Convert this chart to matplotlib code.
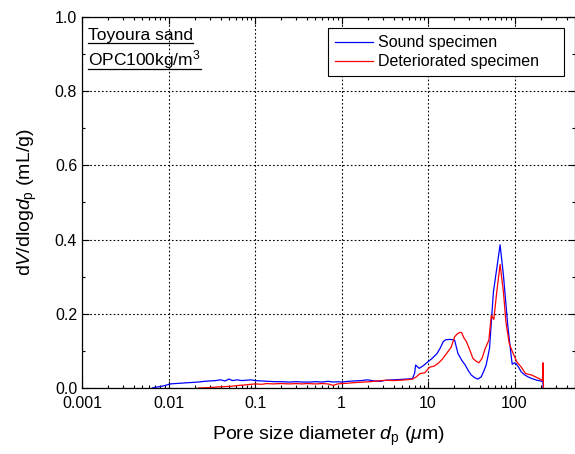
import matplotlib
matplotlib.use("Agg")
import matplotlib.pyplot as plt
from matplotlib.ticker import FixedLocator, MultipleLocator, LogLocator, NullFormatter, FuncFormatter
from matplotlib.lines import Line2D

plt.rcParams["font.family"] = ["Liberation Sans", "DejaVu Sans"]
plt.rcParams["mathtext.fontset"] = "custom"
plt.rcParams["mathtext.rm"] = "Liberation Sans"
plt.rcParams["mathtext.it"] = "Liberation Sans:italic"

# pore diameter (um) and dV/dlogdp (mL/g)
sound_d = [0.0065, 0.0075, 0.0085, 0.0095, 0.0105, 0.012, 0.014, 0.016, 0.019, 0.022,
           0.026, 0.030, 0.035, 0.040, 0.045, 0.050, 0.055, 0.062, 0.070, 0.080,
           0.090, 0.10, 0.12, 0.14, 0.17, 0.20, 0.25, 0.30, 0.36, 0.43,
           0.50, 0.60, 0.70, 0.80, 0.90, 1.0, 1.2, 1.4, 1.7, 2.0,
           2.4, 2.8, 3.3, 4.0, 4.75, 5.5, 6.6, 7.0, 7.2, 7.9,
           8.8, 10.0, 11.2, 12.7, 13.8, 15.0, 16.0, 17.8, 19.5, 20.3,
           21.0, 22.2, 24.5, 26.9, 29.0, 31.6, 34.5, 37.6, 41.2, 44.0,
           47.0, 51.4, 54.0, 57.0, 62.3, 68.1, 74.4, 83.5, 90.0, 94.0,
           100, 104, 112, 119, 130, 143, 160, 181, 200, 213, 214]
sound_v = [0.0, 0.003, 0.005, 0.008, 0.011, 0.012, 0.013, 0.014, 0.015, 0.016,
           0.018, 0.019, 0.020, 0.022, 0.019, 0.024, 0.020, 0.022, 0.020, 0.021,
           0.022, 0.020, 0.019, 0.018, 0.017, 0.017, 0.016, 0.017, 0.016, 0.016,
           0.017, 0.016, 0.018, 0.016, 0.017, 0.016, 0.018, 0.019, 0.020, 0.022,
           0.019, 0.018, 0.021, 0.022, 0.023, 0.024, 0.025, 0.040, 0.062, 0.053,
           0.060, 0.071, 0.080, 0.093, 0.107, 0.125, 0.130, 0.131, 0.130, 0.129,
           0.115, 0.093, 0.075, 0.062, 0.048, 0.035, 0.028, 0.024, 0.030, 0.045,
           0.062, 0.107, 0.180, 0.259, 0.322, 0.386, 0.304, 0.169, 0.100, 0.064,
           0.068, 0.066, 0.055, 0.044, 0.036, 0.030, 0.025, 0.021, 0.019, 0.017, 0.0]

det_d = [0.022, 0.030, 0.038, 0.047, 0.055, 0.065, 0.075, 0.09, 0.10, 0.12,
         0.137, 0.16, 0.20, 0.25, 0.30, 0.35, 0.40, 0.50, 0.60, 0.70,
         0.80, 0.90, 1.0, 1.2, 1.5, 1.8, 2.15, 2.6, 3.3, 4.0,
         4.75, 5.6, 6.6, 7.3, 8.1, 9.2, 10.4, 11.8, 13.0, 14.3,
         16.4, 18.5, 20.3, 21.8, 23.4, 24.5, 26.0, 27.5, 29.9, 33.0,
         36.0, 38.8, 42.1, 45.9, 50.5, 53.9, 57.6, 62.3, 68.1, 74.4,
         79.5, 86.9, 94.4, 106, 119, 134, 157, 190, 210, 214, 216]
det_v = [0.0, 0.001, 0.003, 0.004, 0.005, 0.007, 0.008, 0.010, 0.011, 0.010,
         0.012, 0.011, 0.012, 0.011, 0.012, 0.011, 0.012, 0.011, 0.012, 0.011,
         0.007, 0.011, 0.012, 0.013, 0.015, 0.016, 0.017, 0.019, 0.021, 0.020,
         0.021, 0.022, 0.024, 0.030, 0.039, 0.041, 0.056, 0.059, 0.066, 0.075,
         0.093, 0.110, 0.138, 0.146, 0.150, 0.149, 0.135, 0.127, 0.107, 0.080,
         0.072, 0.068, 0.080, 0.107, 0.129, 0.196, 0.185, 0.259, 0.333, 0.259,
         0.178, 0.120, 0.098, 0.071, 0.057, 0.039, 0.035, 0.026, 0.020, 0.068, 0.0]

x_ticks = [0.001, 0.01, 0.1, 1, 10, 100]
y_ticks = [0.0, 0.2, 0.4, 0.6, 0.8, 1.0]
labels = ["Sound specimen", "Deteriorated specimen"]
note = ["Toyoura sand", "OPC100kg/m$^3$"]

W, H = 575, 454
fig = plt.figure(figsize=(W / 100, H / 100), dpi=100)
ax = fig.add_axes([82 / W, 1 - 388 / H, 1 - 82 / W, (388 - 17) / H])

ax.plot(sound_d, sound_v, color="#0000ff", lw=0.9, label=labels[0])
ax.plot(det_d, det_v, color="#ff0000", lw=0.9, label=labels[1])

ax.set_xscale("log")
ax.set_xlim(0.001, 500)
ax.set_ylim(0, 1.0)
ax.xaxis.set_major_locator(FixedLocator(x_ticks))
ax.xaxis.set_major_formatter(FuncFormatter(lambda v, p: "%g" % v))
ax.xaxis.set_minor_locator(LogLocator(base=10, subs=range(2, 10), numticks=20))
ax.xaxis.set_minor_formatter(NullFormatter())
ax.yaxis.set_major_locator(FixedLocator(y_ticks))
ax.yaxis.set_major_formatter(FuncFormatter(lambda v, p: "%.1f" % v))
ax.yaxis.set_minor_locator(MultipleLocator(0.1))

ax.tick_params(which="both", direction="in", top=True, right=True, labelsize=11.5, colors="black")
ax.tick_params(which="major", length=5, width=0.8)
ax.tick_params(which="minor", length=2.5, width=0.8)
ax.tick_params(axis="x", which="major", pad=6)
ax.grid(True, which="major", color="black", linestyle=(0, (1.5, 2)), linewidth=0.8)
for s in ax.spines.values():
    s.set_linewidth(0.9)

ax.set_xlabel(r"Pore size diameter $\mathit{d}_\mathrm{p}$ ($\mathit{\mu}$m)", fontsize=14, labelpad=10)
ax.set_ylabel(r"d$\mathit{V}$/dlog$\mathit{d}_\mathrm{p}$ (mL/g)", fontsize=14, labelpad=11)

leg = ax.legend(loc="upper left", bbox_to_anchor=(328 / W, 1 - 80 / H, (564 - 328) / W, 52 / H),
                bbox_transform=fig.transFigure, mode="expand",
                fontsize=11.5, frameon=True, fancybox=False, edgecolor="black", framealpha=1,
                borderaxespad=0, handlelength=2.35, handletextpad=0.3, labelspacing=0.25,
                borderpad=0.45)
leg.get_frame().set_linewidth(0.8)

t1 = fig.text(88 / W, 1 - 40 / H, note[0], fontsize=12.5, va="baseline")
t2 = fig.text(88 / W, 1 - 65 / H, note[1], fontsize=12.5, va="baseline")
fig.canvas.draw()
r = fig.canvas.get_renderer()
for t, yb in [(t1, 43), (t2, 68.5)]:
    bb = t.get_window_extent(r)
    fig.add_artist(Line2D([bb.x0, bb.x1], [H - yb, H - yb], transform=None, color="black", lw=0.9))

fig.savefig("out.png", dpi=100)
